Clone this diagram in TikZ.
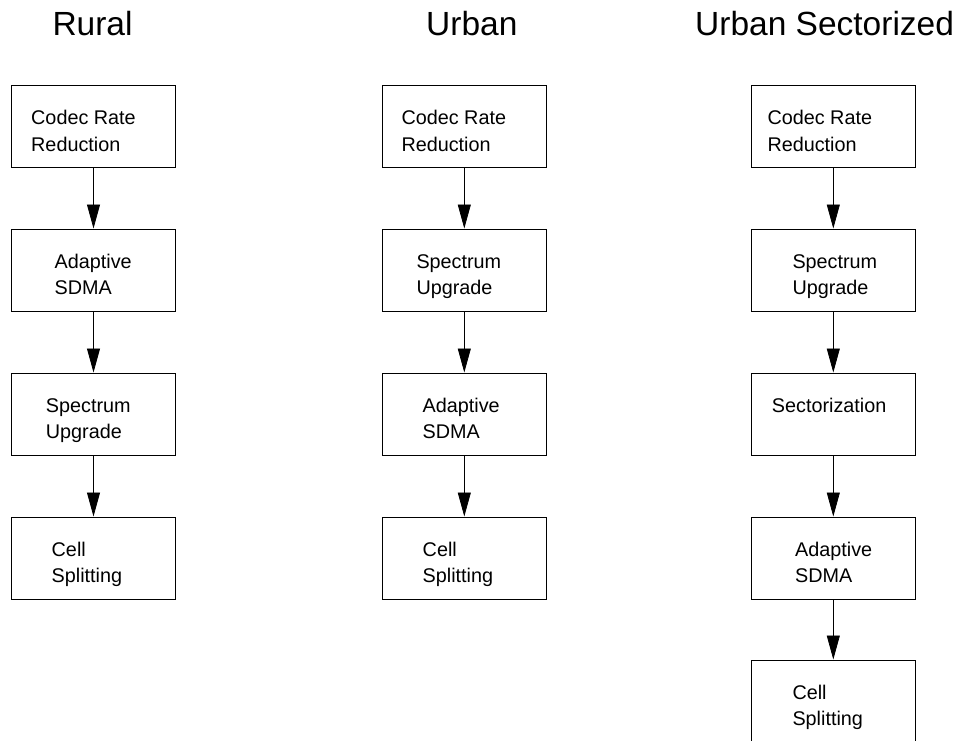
\documentclass[tikz,border=0pt]{standalone}
\usepackage{fontspec}
\setmainfont{Liberation Sans}
\usetikzlibrary{arrows.meta}
\begin{document}
\begin{tikzpicture}[x=1pt,y=-1pt,
  box/.style={draw=black,line width=1pt,minimum width=164.5pt,minimum height=82pt,inner sep=0pt,fill=white},
  txt/.style={anchor=base west,inner sep=0pt,font=\fontsize{19.8pt}{26.7pt}\selectfont},
  ttl/.style={anchor=base west,inner sep=0pt,font=\fontsize{33.5pt}{40pt}\selectfont},
  flow/.style={draw=black,line width=0.8pt,-{Triangle[length=24pt,width=13pt]}}]
\useasboundingbox (0,0) rectangle (961,741);
% titles
\node[ttl] (tR) at (52.3,35.7) {Rural};
\node[ttl] (tU) at (426,35.5) {Urban};
\node[ttl] (tS) at (695,35.5) {Urban Sectorized};
% Rural column
\node[box] (r1) at (93.5,126.7) {};
\node[box] (r2) at (93.5,270) {};
\node[box] (r3) at (93.5,414) {};
\node[box] (r4) at (93.5,558) {};
\node[txt] (r1a) at (31,124.7) {Codec Rate};
\node[txt] (r1b) at (31,151.4) {Reduction};
\node[txt] (r2a) at (54.5,268) {Adaptive};
\node[txt] (r2b) at (54.5,294.7) {SDMA};
\node[txt] (r3a) at (45.7,412) {Spectrum};
\node[txt] (r3b) at (45.7,438.7) {Upgrade};
\node[txt] (r4a) at (51.5,556) {Cell};
\node[txt] (r4b) at (51.5,582.7) {Splitting};
\draw[flow] (r1.south) -- (r2.north);
\draw[flow] (r2.south) -- (r3.north);
\draw[flow] (r3.south) -- (r4.north);
% Urban column
\node[box] (u1) at (464.3,126.7) {};
\node[box] (u2) at (464.3,270) {};
\node[box] (u3) at (464.3,414) {};
\node[box] (u4) at (464.3,558) {};
\node[txt] (u1a) at (401.3,124.7) {Codec Rate};
\node[txt] (u1b) at (401.3,151.4) {Reduction};
\node[txt] (u2a) at (416.3,268) {Spectrum};
\node[txt] (u2b) at (416.3,294.7) {Upgrade};
\node[txt] (u3a) at (422.5,412) {Adaptive};
\node[txt] (u3b) at (422.5,438.7) {SDMA};
\node[txt] (u4a) at (422.5,556) {Cell};
\node[txt] (u4b) at (422.5,582.7) {Splitting};
\draw[flow] (u1.south) -- (u2.north);
\draw[flow] (u2.south) -- (u3.north);
\draw[flow] (u3.south) -- (u4.north);
% Urban Sectorized column
\node[box] (s1) at (833.3,126.7) {};
\node[box] (s2) at (833.3,270) {};
\node[box] (s3) at (833.3,414) {};
\node[box] (s4) at (833.3,558) {};
\node[box] (s5) at (833.3,701) {};
\node[txt] (s1a) at (767.3,124.7) {Codec Rate};
\node[txt] (s1b) at (767.3,151.4) {Reduction};
\node[txt] (s2a) at (792.3,268) {Spectrum};
\node[txt] (s2b) at (792.3,294.7) {Upgrade};
\node[txt] (s3a) at (771.7,412) {Sectorization};
\node[txt] (s4a) at (795,556) {Adaptive};
\node[txt] (s4b) at (795,582.7) {SDMA};
\node[txt] (s5a) at (792.3,699) {Cell};
\node[txt] (s5b) at (792.3,725.7) {Splitting};
\draw[flow] (s1.south) -- (s2.north);
\draw[flow] (s2.south) -- (s3.north);
\draw[flow] (s3.south) -- (s4.north);
\draw[flow] (s4.south) -- (s5.north);
\end{tikzpicture}
\end{document}
